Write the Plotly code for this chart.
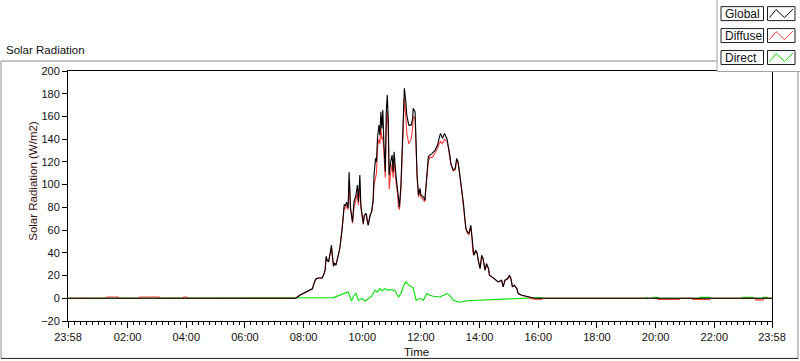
import plotly.graph_objects as go

DAY = "2024-01-02"
PREV_START = "2024-01-01 23:58"
DAY_END = "2024-01-02 23:58"

# ---------------- data ----------------
x_tick_labels = ["23:58", "02:00", "04:00", "06:00", "08:00", "10:00", "12:00",
                 "14:00", "16:00", "18:00", "20:00", "22:00", "23:58"]
x_tick_times = [PREV_START, "02:00", "04:00", "06:00", "08:00", "10:00", "12:00",
                "14:00", "16:00", "18:00", "20:00", "22:00", DAY_END]
y_tick_values = [-20, 0, 20, 40, 60, 80, 100, 120, 140, 160, 180, 200]

day_times = [
    "07:44", "07:52", "08:03", "08:13", "08:18", "08:21", "08:25", "08:30", "08:38", "08:42",
    "08:44", "08:46", "08:48", "08:51", "08:55", "08:57", "08:58", "09:01", "09:03", "09:06",
    "09:10", "09:14", "09:16", "09:19", "09:23", "09:25", "09:28", "09:31", "09:33", "09:36",
    "09:40", "09:43", "09:47", "09:50", "09:52", "09:55", "09:57", "10:02", "10:04", "10:08",
    "10:10", "10:12", "10:16", "10:19", "10:22", "10:24", "10:27", "10:29", "10:31", "10:34",
    "10:36", "10:38", "10:40", "10:42", "10:44", "10:47", "10:49", "10:51", "10:53", "10:55",
    "10:58", "11:01", "11:03", "11:05", "11:09", "11:12", "11:14", "11:16", "11:19", "11:22",
    "11:24", "11:26", "11:29", "11:31", "11:35", "11:40", "11:43", "11:44", "11:48", "11:50",
    "11:52", "11:55", "11:58", "12:00", "12:05", "12:08", "12:10", "12:12", "12:15", "12:18",
    "12:23", "12:29", "12:34", "12:37", "12:40", "12:44", "12:48", "12:53", "12:56", "12:59",
    "13:01", "13:06", "13:10", "13:13", "13:16", "13:20", "13:23", "13:27", "13:30", "13:32",
    "13:35", "13:38", "13:42", "13:44", "13:46", "13:48", "13:52", "13:55", "13:57", "14:01",
    "14:04", "14:07", "14:11", "14:14", "14:18", "14:20", "14:25", "14:29", "14:35", "14:38",
    "14:45", "14:48", "14:52", "14:57", "15:01", "15:04", "15:07", "15:11", "15:16", "15:19",
    "15:26", "15:33", "15:40", "15:46", "15:53",
]

global_day_values = [
    0, 2.6, 5.0, 7.0, 8.5, 13.0, 17.0, 17.9, 17.9, 21.8,
    25.3, 37.0, 33.5, 32.0, 40.8, 46.7, 40.8, 28.2, 31.1, 29.1,
    36.4, 43.8, 51.1, 61.7, 82.8, 81.1, 84.6, 79.3, 111.0, 79.0,
    67.2, 84.8, 90.7, 99.6, 84.8, 108.4, 81.9, 65.8, 73.1, 74.6,
    68.7, 64.3, 73.1, 76.0, 86.3, 108.4, 123.1, 120.1, 140.7, 152.4,
    143.6, 164.1, 149.5, 165.6, 137.7, 111.3, 164.1, 178.9, 158.3, 108.4,
    120.1, 126.0, 111.3, 128.9, 107.5, 96.7, 84.8, 80.4, 99.6, 137.7,
    167.1, 184.8, 173.0, 161.2, 152.4, 152.4, 158.3, 167.1, 164.1, 128.9,
    108.4, 90.7, 96.7, 90.7, 89.3, 86.3, 99.6, 114.3, 124.5, 126.0,
    127.5, 130.4, 134.8, 140.7, 145.1, 140.7, 145.1, 140.7, 134.8, 126.0,
    118.9, 112.8, 114.3, 123.1, 120.1, 106.9, 95.2, 83.4, 68.7, 61.4,
    58.4, 57.0, 64.3, 55.5, 40.8, 37.9, 42.3, 39.4, 33.5, 26.2,
    37.9, 35.0, 24.7, 30.6, 26.2, 20.3, 18.8, 17.4, 15.9, 14.4,
    15.9, 10.0, 15.9, 17.4, 20.3, 17.4, 10.0, 11.5, 8.5, 4.1,
    2.6, 1.8, 1.1, 0.3, 0,
]

diffuse_day_values = [
    0, 2.6, 5.0, 7.0, 8.0, 12.5, 17.0, 17.9, 17.9, 21.8,
    25.0, 35.0, 33.5, 32.0, 40.0, 44.0, 40.8, 28.2, 31.1, 29.1,
    36.4, 43.8, 51.1, 61.7, 80.0, 79.0, 82.0, 78.0, 104.0, 78.0,
    66.0, 80.0, 88.0, 92.0, 82.0, 100.0, 80.0, 65.0, 72.0, 74.6,
    68.7, 64.3, 73.1, 76.0, 84.0, 100.0, 106.0, 110.0, 132.0, 140.0,
    136.0, 150.0, 140.0, 142.0, 130.0, 106.0, 150.0, 165.0, 150.0, 96.0,
    110.0, 118.0, 106.0, 120.0, 102.0, 92.0, 80.0, 78.0, 96.0, 132.0,
    160.0, 176.0, 160.0, 145.0, 136.0, 140.0, 150.0, 160.0, 158.0, 126.0,
    106.0, 89.0, 95.0, 89.0, 87.0, 85.0, 97.0, 110.0, 120.0, 124.0,
    124.0, 128.0, 132.0, 136.0, 138.0, 136.0, 140.0, 138.0, 133.0, 124.0,
    118.0, 112.0, 113.0, 121.0, 119.0, 106.0, 94.0, 82.0, 68.0, 61.0,
    57.0, 56.0, 62.0, 55.0, 40.8, 37.9, 41.0, 39.0, 33.5, 26.2,
    36.0, 35.0, 24.7, 29.0, 26.2, 20.3, 18.8, 17.4, 15.9, 14.4,
    15.9, 10.0, 15.9, 17.0, 19.0, 17.4, 10.0, 11.5, 8.5, 4.1,
    2.6, 1.8, 1.1, -0.3, -0.8,
]

global_times = [PREV_START] + day_times + [DAY_END]
global_values = [0] + global_day_values + [0]

diffuse_night_am_times = [PREV_START, "01:17", "01:18", "01:40", "01:41", "02:24", "02:25",
                          "03:04", "03:05", "03:54", "03:55", "04:01", "04:02"]
diffuse_night_am_values = [0, 0, 1.1, 1.1, 0, 0, 1.1, 1.1, 0, 0, 1.1, 1.1, 0]
diffuse_night_pm_times = ["16:07", "16:08", "20:04", "20:05", "20:48", "20:49", "21:15", "21:16",
                          "21:51", "21:52", "23:24", "23:25", "23:40", "23:41", DAY_END]
diffuse_night_pm_values = [-1.0, 0, 0, -1.1, -1.1, 0, 0, -1.0, -1.0, 0, 0, -1.4, -1.4, 0, 0]

direct_times = [
    PREV_START, "07:46", "08:20", "08:54", "09:01", "09:31", "09:35", "09:38", "09:42", "09:47",
    "09:52", "09:59", "10:06", "10:12", "10:19", "10:26", "10:31", "10:36", "10:40", "10:46",
    "10:53", "11:00", "11:07", "11:14", "11:19", "11:24", "11:29", "11:34", "11:38", "11:44",
    "11:50", "11:58", "12:05", "12:12", "12:18", "12:25", "12:39", "12:53", "12:59", "13:06",
    "13:20", "13:33", "13:54", "14:14", "14:42", "15:09", "15:43", "16:03", "16:10",
    "19:41", "19:42", "19:44", "19:54", "19:55", "20:05", "20:06", "21:30", "21:31", "21:51",
    "21:52", "22:57", "22:58", "23:19", "23:20", "23:39", "23:40", "23:48", "23:49", DAY_END,
]
direct_values = [
    0, 0, 0.6, 0, 0.6, 5.6, -0.3, -2.4, 1.8, 4.1,
    -1.8, -0.3, -2.4, -0.3, 1.8, 7.0, 5.6, 8.5, 6.4, 8.5,
    7.0, 7.7, 6.4, 1.1, 4.1, 10.6, 14.4, 12.3, 10.6, 9.4,
    -1.8, -0.3, -1.8, 4.1, 2.6, 1.8, 1.1, 4.1, 2.6, -1.8,
    -3.5, -2.2, -1.8, -1.1, -1.1, -0.3, 0.6, 0.6, 0,
    0, 0.8, 0, 0, 0.8, 0.8, 0, 0, 0.8, 0.8,
    0, 0, 0.8, 0.8, 0, 0, 0.8, 0.8, 0, 0,
]

diffuse_times = diffuse_night_am_times + day_times + diffuse_night_pm_times
diffuse_values = diffuse_night_am_values + diffuse_day_values + diffuse_night_pm_values

series_names = ["Global", "Diffuse", "Direct"]
series_colors = ["#000000", "#ff3b3b", "#00e000"]


def ts(t):
    return t if " " in t else f"{DAY} {t}"


# ---------------- figure ----------------
W, H = 800, 361
L, R, T = 68, 28, 71
PLOT_BOTTOM = 321.5
B = H - PLOT_BOTTOM
PW = W - L - R
PH = PLOT_BOTTOM - T


def px(x):
    return (x - L) / PW


def py(y):
    return (PLOT_BOTTOM - y) / PH


fig = go.Figure()
fig.add_trace(go.Scatter(x=[ts(t) for t in direct_times], y=direct_values, mode="lines",
                         line=dict(color=series_colors[2], width=1.1), name="Direct",
                         showlegend=False))
fig.add_trace(go.Scatter(x=[ts(t) for t in diffuse_times], y=diffuse_values, mode="lines",
                         line=dict(color=series_colors[1], width=1.1), name="Diffuse",
                         showlegend=False))
fig.add_trace(go.Scatter(x=[ts(t) for t in global_times], y=global_values, mode="lines",
                         line=dict(color=series_colors[0], width=1.1), name="Global",
                         showlegend=False))

FONT = "Liberation Sans, Arial, sans-serif"
TXT = "#101010"

fig.update_xaxes(
    type="date",
    range=[PREV_START, DAY_END],
    tickmode="array",
    tickvals=[ts(t) for t in x_tick_times],
    ticktext=x_tick_labels,
    ticks="outside", ticklen=6, tickwidth=1, tickcolor="#000000",
    showgrid=False, zeroline=False,
    showline=True, linecolor="#000000", linewidth=1, mirror=True,
    tickfont=dict(family=FONT, size=11, color=TXT),
    minor=dict(ticks="outside", ticklen=3, tickwidth=1, tickcolor="#000000",
               dtick=12 * 60 * 1000, tick0=f"{DAY} 00:00", showgrid=False),
)
fig.update_yaxes(
    range=[-20, 200],
    tickmode="array", tickvals=y_tick_values,
    ticks="outside", ticklen=5, tickwidth=1, tickcolor="#000000",
    showgrid=False, zeroline=False,
    showline=True, linecolor="#000000", linewidth=1, mirror=True,
    tickfont=dict(family=FONT, size=11, color=TXT),
)

shapes = []
# outer panel frame: gray top/left/right, dark bottom
shapes.append(dict(type="line", xref="paper", yref="paper",
                   x0=px(1), x1=px(798), y0=py(61), y1=py(61),
                   line=dict(color="#8c8c8c", width=1), layer="below"))
shapes.append(dict(type="line", xref="paper", yref="paper",
                   x0=px(1), x1=px(1), y0=py(61), y1=py(359),
                   line=dict(color="#8c8c8c", width=1), layer="below"))
shapes.append(dict(type="line", xref="paper", yref="paper",
                   x0=px(798), x1=px(798), y0=py(61), y1=py(359),
                   line=dict(color="#8c8c8c", width=1), layer="below"))
shapes.append(dict(type="line", xref="paper", yref="paper",
                   x0=px(1), x1=px(798), y0=py(359), y1=py(359),
                   line=dict(color="#202020", width=1), layer="below"))
# legend panel
shapes.append(dict(type="rect", xref="paper", yref="paper",
                   x0=px(717), x1=px(801), y0=py(71.5), y1=py(-1),
                   line=dict(color="#a0a0a0", width=1), fillcolor="#ffffff", layer="above"))
annotations = []
row_tops = [6.5, 28.5, 50.5]
for name, color, top in zip(series_names, series_colors, row_tops):
    bot = top + 14
    shapes.append(dict(type="rect", xref="paper", yref="paper",
                       x0=px(721), x1=px(763.5), y0=py(bot), y1=py(top),
                       line=dict(color="#202020", width=1), fillcolor="#ffffff", layer="above"))
    shapes.append(dict(type="rect", xref="paper", yref="paper",
                       x0=px(767.5), x1=px(795), y0=py(bot), y1=py(top),
                       line=dict(color="#202020", width=1), fillcolor="#ffffff", layer="above"))
    path = (f"M {px(769.5)} {py(bot - 3)} L {px(776)} {py(top + 3)} "
            f"L {px(784.5)} {py(bot - 3)} L {px(793)} {py(top + 2.5)}")
    shapes.append(dict(type="path", xref="paper", yref="paper", path=path,
                       line=dict(color=color, width=1), layer="above"))
    annotations.append(dict(x=px(723), y=py(top + 7), xref="paper", yref="paper",
                            text=name, showarrow=False, xanchor="left", yanchor="middle",
                            font=dict(family=FONT, size=12, color=TXT)))

annotations.append(dict(x=px(4), y=py(50), xref="paper", yref="paper", text="Solar Radiation",
                        showarrow=False, xanchor="left", yanchor="middle",
                        font=dict(family=FONT, size=11.5, color=TXT)))
annotations.append(dict(x=px(33), y=py(181), xref="paper", yref="paper",
                        text="Solar Radiation (W/m2)", textangle=-90, showarrow=False,
                        xanchor="center", yanchor="middle",
                        font=dict(family=FONT, size=11.5, color="#3a1010")))
annotations.append(dict(x=px(416), y=py(353), xref="paper", yref="paper", text="Time",
                        showarrow=False, xanchor="center", yanchor="middle",
                        font=dict(family=FONT, size=11.5, color=TXT)))

fig.update_layout(
    width=W, height=H,
    margin=dict(l=L, r=R, t=T, b=B, pad=0, autoexpand=False),
    paper_bgcolor="#ffffff", plot_bgcolor="#ffffff",
    showlegend=False,
    shapes=shapes, annotations=annotations,
)

fig.write_html(
    "out.html",
    config={"displayModeBar": False},
    post_script="document.body.style.margin='0';document.body.style.padding='0';"
                "document.body.style.overflow='hidden';",
)
